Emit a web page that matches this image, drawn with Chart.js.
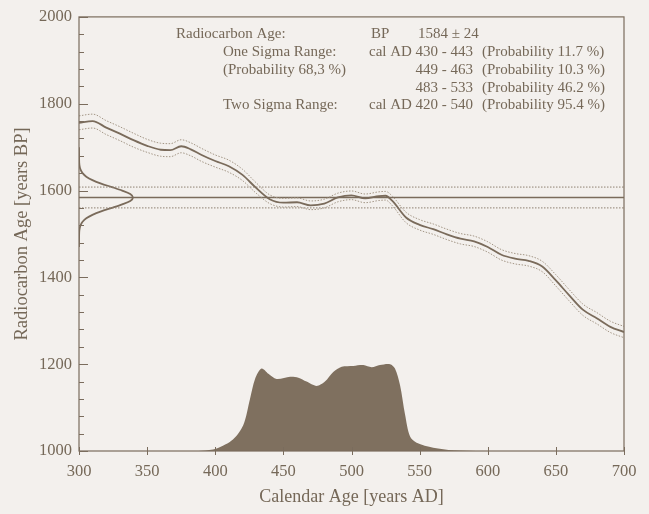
<!DOCTYPE html>
<html>
<head>
<meta charset="utf-8">
<script src="https://cdn.jsdelivr.net/npm/chart.js@4/dist/chart.umd.min.js"></script>
<style>
  html, body { margin: 0; padding: 0; background: #f3f0ed; }
  #wrap { width: 649px; height: 514px; }
</style>
</head>
<body>
<div id="wrap"><canvas id="c14Chart" width="649" height="514"></canvas></div>
<script>
// ─── data ───

// calibration curve (calendar year AD -> radiocarbon age BP, 1 sigma)
const calYears = [300, 310, 320, 330, 340, 350, 360, 367, 375, 382, 390, 400, 410, 420, 430, 440, 450, 460, 470, 480, 490, 500, 510, 520, 525, 530, 540, 550, 560, 570, 580, 590, 600, 610, 620, 630, 640, 650, 660, 670, 680, 690, 700];
const calBP    = [1756, 1760, 1745, 1731, 1716, 1703, 1694, 1693, 1702, 1695, 1682, 1668, 1656, 1636, 1606, 1580, 1572, 1573, 1566, 1570, 1584, 1589, 1582, 1587, 1588, 1576, 1538, 1521, 1511, 1499, 1489, 1483, 1470, 1452, 1443, 1438, 1425, 1393, 1358, 1325, 1306, 1286, 1274];
const calSigma = [16, 16, 16, 16, 16, 15, 15, 15, 15, 15, 15, 14, 14, 13, 12, 10, 10, 10, 10, 10, 10, 10, 10, 10, 10, 11, 12, 12, 12, 12, 12, 12, 12, 12, 12, 12, 12, 13, 13, 13, 13, 13, 13];

// measured sample
const sampleBP = 1584;
const sampleErr = 24;

// sample distribution drawn along the BP axis (relative height)
const gaussBP      = [1700, 1680, 1664, 1656, 1648, 1640, 1632, 1624, 1616, 1608, 1600, 1592, 1584, 1576, 1568, 1560, 1552, 1544, 1536, 1528, 1520, 1512, 1504, 1488, 1470];
const gaussDensity = [0, 0.001, 0.004, 0.011, 0.029, 0.066, 0.135, 0.249, 0.41, 0.61, 0.8, 0.95, 1, 0.95, 0.8, 0.61, 0.41, 0.249, 0.135, 0.066, 0.029, 0.011, 0.004, 0.001, 0];

// calibrated probability (relative height)
const probYears   = [300, 380, 390, 401, 413, 420.6, 425.5, 429.2, 434, 439, 445, 455, 461, 467, 474.4, 480.5, 486.6, 492.8, 501.3, 508.7, 514.8, 520.9, 528.3, 531.9, 535.6, 539.3, 542.9, 547.8, 560, 574.8, 597, 700];
const probDensity = [0, 0, 0.003, 0.03, 0.133, 0.3, 0.6, 0.83, 0.95, 0.89, 0.83, 0.855, 0.845, 0.8, 0.75, 0.8, 0.91, 0.97, 0.98, 0.99, 0.965, 0.99, 1.0, 0.95, 0.76, 0.42, 0.17, 0.095, 0.038, 0.008, 0, 0];

// result text block
const resultLines = [
  ['Radiocarbon Age:', '', 'BP', '1584 \u00b1 24', ''],
  ['', 'One Sigma Range:', 'cal AD', '430 - 443', '(Probability 11.7 %)'],
  ['', '(Probability 68,3 %)', '', '449 - 463', '(Probability 10.3 %)'],
  ['', '', '', '483 - 533', '(Probability 46.2 %)'],
  ['', 'Two Sigma Range:', 'cal AD', '420 - 540', '(Probability 95.4 %)']
];

// ─── styling ───
const axisColor = '#7a6c5d';
const textColor = '#756858';
const lineColor = '#7a6b5b';
const dotColor  = '#a39686';
const fillColor = '#7f705f';
const serif = "'Liberation Serif', 'DejaVu Serif', serif";

const pts = (xs, ys) => xs.map((x, i) => ({ x, y: ys[i] }));

const frameTicks = {
  id: 'frameTicks',
  afterDatasetsDraw(chart) {
    const { ctx, chartArea: a, scales: { x, y } } = chart;
    ctx.save();
    ctx.strokeStyle = axisColor;
    ctx.lineWidth = 1.2;
    ctx.strokeRect(a.left, a.top, a.right - a.left, a.bottom - a.top);
    ctx.lineWidth = 1;
    ctx.beginPath();
    y.ticks.forEach(t => {
      const py = Math.round(y.getPixelForValue(t.value)) + 0.5;
      const len = t.value % 200 === 0 ? 9 : 5;
      ctx.moveTo(a.left, py); ctx.lineTo(a.left + len, py);
    });
    x.ticks.forEach(t => {
      const px = Math.round(x.getPixelForValue(t.value)) + 0.5;
      ctx.moveTo(px, a.bottom - 4); ctx.lineTo(px, a.bottom + 4);
    });
    ctx.stroke();
    ctx.restore();
  }
};

const resultText = {
  id: 'resultText',
  afterDraw(chart) {
    const ctx = chart.ctx;
    ctx.save();
    ctx.fillStyle = textColor;
    ctx.font = '15px ' + serif;
    ctx.textBaseline = 'middle';
    resultLines.forEach((row, i) => {
      const yy = 34.5 + i * 17.7;
      ctx.textAlign = 'left';
      if (row[0]) ctx.fillText(row[0], 176, yy);
      if (row[1]) ctx.fillText(row[1], 223, yy);
      if (row[2]) ctx.fillText(row[2], row[2] === 'BP' ? 371 : 369, yy);
      if (row[3]) {
        if (row[2] === 'BP') { ctx.fillText(row[3], 418, yy); }
        else { ctx.textAlign = 'right'; ctx.fillText(row[3], 473, yy); ctx.textAlign = 'left'; }
      }
      if (row[4]) ctx.fillText(row[4], 482, yy);
    });
    ctx.restore();
  }
};

const upper = calBP.map((v, i) => v + calSigma[i]);
const lower = calBP.map((v, i) => v - calSigma[i]);

new Chart(document.getElementById('c14Chart'), {
  type: 'scatter',
  data: {
    datasets: [
      { data: pts(probYears, probDensity), yAxisID: 'yProb', showLine: true, fill: 'origin',
        backgroundColor: fillColor, borderWidth: 0, pointRadius: 0, tension: 0.3 },
      { data: pts(calYears, upper), showLine: true, borderColor: dotColor, borderWidth: 1,
        borderDash: [1.5, 1.5], pointRadius: 0, cubicInterpolationMode: 'monotone' },
      { data: pts(calYears, lower), showLine: true, borderColor: dotColor, borderWidth: 1,
        borderDash: [1.5, 1.5], pointRadius: 0, cubicInterpolationMode: 'monotone' },
      { data: pts(calYears, calBP), showLine: true, borderColor: lineColor, borderWidth: 1.8,
        pointRadius: 0, cubicInterpolationMode: 'monotone' },
      { data: [{ x: 300, y: sampleBP + sampleErr }, { x: 700, y: sampleBP + sampleErr }], showLine: true,
        borderColor: '#8e8172', borderWidth: 1, borderDash: [1.5, 1.5], pointRadius: 0 },
      { data: [{ x: 300, y: sampleBP - sampleErr }, { x: 700, y: sampleBP - sampleErr }], showLine: true,
        borderColor: '#8e8172', borderWidth: 1, borderDash: [1.5, 1.5], pointRadius: 0 },
      { data: [{ x: 300, y: sampleBP }, { x: 700, y: sampleBP }], showLine: true,
        borderColor: lineColor, borderWidth: 1.5, pointRadius: 0 },
      { data: gaussBP.map((b, i) => ({ x: gaussDensity[i], y: b })), xAxisID: 'xGauss', showLine: true,
        borderColor: lineColor, borderWidth: 1.8, pointRadius: 0, tension: 0.3 }
    ]
  },
  options: {
    responsive: false,
    animation: false,
    layout: { padding: { top: 13, right: 25, left: 0, bottom: 0 } },
    plugins: { legend: { display: false }, tooltip: { enabled: false } },
    scales: {
      x: {
        type: 'linear', min: 300, max: 700,
        afterFit: s => { s.height = 63; },
        grid: { display: false, drawTicks: false }, border: { display: false },
        ticks: { stepSize: 50, color: textColor, padding: 11, autoSkip: false, maxRotation: 0,
          font: { family: serif, size: 16.5 } },
        title: { display: true, text: 'Calendar Age [years AD]', color: textColor,
          font: { family: serif, size: 18 }, padding: { top: 0, bottom: 6 } }
      },
      y: {
        type: 'linear', min: 1000, max: 2000,
        afterFit: s => { s.width = 79; },
        grid: { display: false, drawTicks: false }, border: { display: false },
        ticks: { stepSize: 40, color: textColor, padding: 7, autoSkip: false,
          font: { family: serif, size: 16.5 },
          callback: v => v % 200 === 0 ? v : '' },
        title: { display: true, text: 'Radiocarbon Age [years BP]', color: textColor,
          font: { family: serif, size: 18.5 }, padding: { top: 11, bottom: 0 } }
      },
      yProb: { type: 'linear', display: false, min: 0, max: 5 },
      xGauss: { type: 'linear', display: false, min: 0, max: 10.1 }
    }
  },
  plugins: [frameTicks, resultText]
});
</script>
</body>
</html>
